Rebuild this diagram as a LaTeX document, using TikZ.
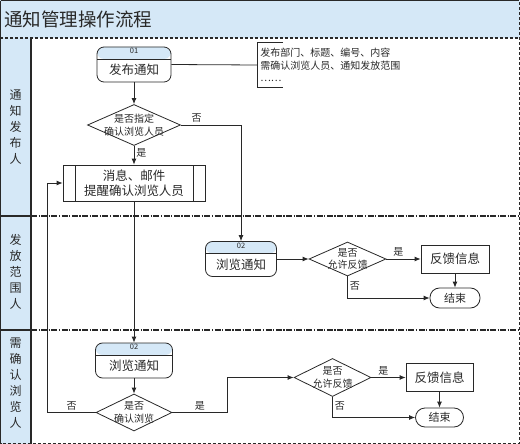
\documentclass[tikz,border=0pt]{standalone}
\usepackage{fontspec}
\setmainfont{Noto Sans CJK SC}
\usetikzlibrary{shapes.geometric, arrows.meta}

\definecolor{headblue}{RGB}{213,232,247}
\definecolor{inkgray}{RGB}{40,40,40}

\tikzset{
  stepbox/.style={draw, rounded corners=7pt, minimum height=35pt,
                  inner xsep=0pt, inner ysep=0pt, text height=27.5pt,
                  text depth=7.5pt, font=\fontsize{12.5}{14}\selectfont,
                  label={[steptag]north:#1},
                  path picture={
                    \fill[headblue] (path picture bounding box.north west)
                      rectangle ([yshift=-12pt]path picture bounding box.north east);
                    \draw[inkgray, line width=0.8pt]
                      ([yshift=-12pt]path picture bounding box.north west)
                      -- ([yshift=-12pt]path picture bounding box.north east);}},
  steptag/.style={anchor=north, inner sep=1.5pt,
                  font=\fontsize{7.5}{8}\selectfont},
  procbox/.style={draw, minimum width=142pt, minimum height=36pt,
                  align=center, inner sep=0pt,
                  font=\fontsize{12.5}{15.5}\selectfont,
                  path picture={
                    \draw[inkgray, line width=0.8pt]
                      ([xshift=12pt]path picture bounding box.north west)
                      -- ([xshift=12pt]path picture bounding box.south west);
                    \draw[inkgray, line width=0.8pt]
                      ([xshift=-12pt]path picture bounding box.north east)
                      -- ([xshift=-12pt]path picture bounding box.south east);}},
  decision/.style={diamond, draw, inner sep=0pt, fill=white},
  asktext/.style={align=center, inner sep=0pt,
                  font=\fontsize{10}{12.5}\selectfont},
  fbbox/.style={draw, minimum width=68pt, minimum height=28pt,
                inner sep=0pt, font=\fontsize{12.5}{14}\selectfont},
  endbox/.style={draw, rounded corners=9.5pt, minimum width=50pt,
                 minimum height=20pt, inner sep=0pt,
                 font=\fontsize{11}{12}\selectfont},
  lbl/.style={font=\fontsize{10}{11}\selectfont, inner sep=2pt},
  lanelabel/.style={align=center, inner sep=0pt,
                    font=\fontsize{12}{16}\selectfont},
  frame/.style={line width=1.3pt, draw=inkgray},
  lanesep/.style={line width=1.2pt, draw=inkgray,
                  dash pattern=on 6pt off 1.5pt on 1.2pt off 1.5pt}
}

\begin{document}
\begin{tikzpicture}[x=1pt, y=-1pt, line width=0.8pt, draw=inkgray,
                    text=inkgray, >={Latex[length=6pt,width=5pt]}]
    \useasboundingbox (0,0) rectangle (520,444);

    % Swimlane frame

    \fill[headblue] (0,0) rectangle (520,38);
    \fill[headblue] (0,38) rectangle (31,444);
    \draw[frame, densely dashed] (0.65,0.65) rectangle (519.35,443.35);
    \draw[frame] (0.65,0.65) -- (519.35,0.65);
    \draw[frame] (0.65,0.65) -- (0.65,443.35);
    \draw[frame, densely dashed] (0,38) -- (520,38);
    \draw[frame] (31,38) -- (31,444);
    \draw[frame] (0,216) -- (31,216);
    \draw[frame] (0,330) -- (31,330);
    \draw[lanesep] (31,216) -- (520,216);
    \draw[lanesep] (31,330) -- (520,330);
    \node (title) [anchor=west, inner sep=0pt,
                   font=\fontsize{18.5}{20}\selectfont]
          at (4,19) {通知管理操作流程};
    \node (lane1) [lanelabel] at (15.5,127) {通\\知\\发\\布\\人};
    \node (lane2) [lanelabel] at (15.5,272) {发\\放\\范\\围\\人};
    \node (lane3) [lanelabel] at (15.5,383) {需\\确\\认\\浏\\览\\人};

    % Notice publisher

    \node (pub) [stepbox=01, minimum width=74pt] at (134,64.5) {发布通知};
    \node (note) [anchor=west, align=left, inner xsep=3pt, inner ysep=0pt,
                  minimum height=44pt, font=\fontsize{10}{12.5}\selectfont]
          at (257,65) {发布部门、标题、编号、内容\\
                       需确认浏览人员、通知发放范围\\……};
    \draw ([xshift=26pt]note.north west) -- (note.north west)
          -- (note.south west) -- ([xshift=26pt]note.south west);
    \node (ask) [decision, minimum width=93pt, minimum height=41pt,
                 label={[asktext]center:是否指定\\确认浏览人员}]
          at (134,125) {};
    \node (msg) [procbox] at (134,183) {消息、邮件\\提醒确认浏览人员};
    \draw (pub.east) -- (note.west);
    \draw[->] (pub) -- (ask);
    \draw[->] (ask) -- node[lbl, right, pos=0.4] {是} (msg);

    % Distribution scope

    \node (view2) [stepbox=02, minimum width=71pt] at (241,259) {浏览通知};
    \node (ask2) [decision, minimum width=77pt, minimum height=34pt,
                  label={[asktext]center:是否\\允许反馈}]
          at (347.5,259) {};
    \node (fb2) [fbbox] at (455,259) {反馈信息};
    \node (end2) [endbox] at (455,298) {结束};
    \draw[->] (ask.east) -| node[lbl, pos=0.13, above] {否} (view2.north);
    \draw[->] (view2) -- (ask2);
    \draw[->] (ask2) -- node[lbl, above, pos=0.35] {是} (fb2);
    \draw[->] (fb2) -- (end2);
    \draw[->] (ask2.south) |- node[lbl, right, pos=0.22] {否} (end2.west);

    % Confirming readers

    \node (view3) [stepbox=02, minimum width=77pt] at (134,360.5) {浏览通知};
    \node (ask3) [decision, minimum width=76pt, minimum height=37pt,
                  label={[asktext]center:是否\\确认浏览}]
          at (134,412.5) {};
    \node (ask4) [decision, minimum width=77pt, minimum height=38pt,
                  label={[asktext]center:是否\\允许反馈}]
          at (332.5,377.5) {};
    \node (fb3) [fbbox, minimum width=67pt] at (439.5,377.5) {反馈信息};
    \node (end3) [endbox, minimum width=48pt, minimum height=19pt]
          at (439.5,417.5) {结束};
    \draw[->] (msg) -- (view3);
    \draw[->] (view3) -- (ask3);
    \draw[->] (ask3.west) -- ++(-48,0) node[lbl, midway, above] {否}
          |- (msg.west);
    \draw[->] (ask3.east) -- ++(55,0) node[lbl, midway, above] {是}
          |- (ask4.west);
    \draw[->] (ask4) -- node[lbl, above, pos=0.35] {是} (fb3);
    \draw[->] (fb3) -- (end3);
    \draw[->] (ask4.south) |- node[lbl, right, pos=0.22] {否} (end3.west);
\end{tikzpicture}
\end{document}
